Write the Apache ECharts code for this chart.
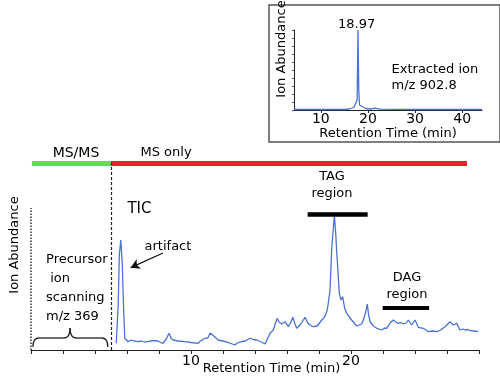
<!DOCTYPE html>
<html><head><meta charset="utf-8">
<script src="https://cdn.jsdelivr.net/npm/echarts@6/dist/echarts.min.js"></script>
<style>html,body{margin:0;padding:0;background:#fff}#c{width:500px;height:384px}</style>
</head><body><div id="c"></div>
<script>
const FONT = 'DejaVu Sans';
// ---- main TIC chromatogram (time in min, abundance in arbitrary units) ----
const ticTime = [5.33,5.45,5.52,5.61,5.70,5.78,5.86,6.06,6.27,6.45,6.69,6.9,7.1,7.31,7.6,7.94,8.1,8.25,8.45,8.63,8.75,8.88,9.2,9.61,10.0,10.44,10.6,10.86,11.05,11.2,11.31,11.5,11.69,12.0,12.31,12.5,12.73,12.9,13.14,13.4,13.69,13.9,14.11,14.4,14.63,14.8,14.94,15.14,15.39,15.5,15.67,15.88,16.08,16.25,16.36,16.5,16.61,16.86,17.13,17.3,17.44,17.64,17.89,18.17,18.35,18.52,18.69,18.79,18.96,19.05,19.1,19.14,19.27,19.38,19.48,19.6,19.73,19.9,20.04,20.2,20.36,20.5,20.67,20.81,20.95,21.02,21.1,21.2,21.4,21.61,21.92,22.1,22.23,22.45,22.64,22.8,22.96,23.1,23.27,23.45,23.58,23.79,24.0,24.21,24.52,24.7,24.83,25.1,25.36,25.6,25.88,26.0,26.19,26.39,26.5,26.61,26.81,27.0,27.13,27.3,27.44,27.7,27.96];
const ticAbund = [6.7,45,95,110,88,45,12,8.3,10,9,8.3,9,8,8.3,9.5,9,7.5,6.7,11,16.7,12,10,9,8.3,7.5,6.7,9,11.7,12,17,18.3,13,10,9,7.7,6.5,5,7,8.3,9,11.7,10.5,10,8,6,12,16.7,20,31.7,28,26,28.3,23.3,28,32.7,26,21.7,26,32.7,27,25,23.3,24,30,33,40,60,100,135,115,100,90,56.7,50,53.3,42,36.7,33,30,27,24,25,26,31.7,40,46,35,28,24,21.7,20,22,21.7,27,30,28,26.7,27.5,26,27,30,25,30,22.7,21.7,20,18.3,19,18.3,20,23.3,22,28.3,25,27,26.7,20,21,20,20.5,19.3,19,18.3];
const mainLabelTicks = [10, 20];
// ---- inset: extracted ion m/z 902.8 ----
const eicTime = [4.3,10,15,16,16.4,17.0,17.4,17.7,17.88,18.05,18.2,18.6,19.5,20.5,21.5,22.5,30,44.2];
const eicAbund = [0.5,0.5,0.5,1.0,2.5,2.5,3,10,80,20,5,3,1.5,1,1.8,0.8,0.5,0.5];
const insetLabelTicks = [10, 20, 30, 40];
// ---- annotation anchors (data units) ----
const switchTime = 5.0;
const msmsSpan = [0.06, 5.0];
const msOnlySpan = [5.0, 27.25];
const phaseLevel = 187;
const tagSpan = [17.29, 21.04], tagLevel = 136;
const dagSpan = [21.98, 24.88], dagLevel = 42.7;
const dottedSpan = [0, 142];
const braceSpan = [0.12, 4.8], braceTip = 2.44, braceLevels = [3, 12, 22];
const arrowFrom = [8.25, 97], arrowTo = [6.23, 82.3];
const mainNotes = [
  {name:'MS/MS', value:[2.81,197], size:14},
  {name:'MS only', value:[8.44,197]},
  {name:'TIC', value:[6.78,141], size:15},
  {name:'artifact', value:[8.56,103.3]},
  {name:'TAG\nregion', value:[18.81,165]},
  {name:'DAG\nregion', value:[23.5,64]},
  {name:'Precursor\n ion\nscanning\nm/z 369', value:[0.94,100.3], left:true, lh:19}
];
const insetNotes = [
  {name:'18.97', value:[17.6,85]},
  {name:'Extracted ion\nm/z 902.8', value:[25.0,48], left:true, lh:16},
  {name:'Ion Abundance', value:[1.77,61], rot:true}
];

const BLUE = '#4a72d6';
const chart = echarts.init(document.getElementById('c'), null, {renderer:'canvas'});

function noteItems(arr){
  return arr.map(n => ({
    name:n.name, value:n.value,
    label:{
      show:true, position:'inside', formatter:'{b}',
      fontFamily:FONT, color:'#000', fontSize:n.size||13, opacity:1, textBorderWidth:0,
      lineHeight: n.lh || 17,
      align: n.left ? 'left' : 'center',
      verticalAlign: n.left ? 'top' : 'middle',
      rotate: n.rot ? 90 : 0
    }
  }));
}
function hline(span, lvl, color, w){
  return [{coord:[span[0],lvl], lineStyle:{color:color, width:w, type:'solid'}}, {coord:[span[1],lvl]}];
}

chart.setOption({
  animation:false,
  backgroundColor:'#fff',
  grid:[
    {left:31, right:21, top:140, bottom:34, outerBoundsMode:'none', containLabel:false},
    {left:294, right:18, top:30, bottom:274, outerBoundsMode:'none', containLabel:false}
  ],
  xAxis:[
    {gridIndex:0, type:'value', min:0, max:28, interval:2,
     axisLine:{lineStyle:{color:'#222', width:1}},
     axisTick:{show:true, length:4, lineStyle:{color:'#222'}},
     axisLabel:{margin:4, fontFamily:FONT, fontSize:14, color:'#000',
       formatter:v => mainLabelTicks.includes(v) ? String(v) : ''},
     splitLine:{show:false},
     name:'Retention Time (min)', nameLocation:'middle', nameGap:12, nameMoveOverlap:false,
     nameTextStyle:{fontFamily:FONT, fontSize:13, color:'#000', padding:[0,0,0,33]}
    },
    {gridIndex:1, type:'value', min:4.3, max:44.2,
     axisLine:{lineStyle:{color:'#222', width:1}},
     axisTick:{show:true, length:3, customValues:insetLabelTicks, lineStyle:{color:'#222'}},
     axisLabel:{margin:2, fontFamily:FONT, fontSize:14, color:'#000', customValues:insetLabelTicks},
     splitLine:{show:false},
     name:'Retention Time (min)', nameLocation:'middle', nameGap:17, nameMoveOverlap:false,
     nameTextStyle:{fontFamily:FONT, fontSize:13, color:'#000'}
    }
  ],
  yAxis:[
    {gridIndex:0, type:'value', min:0, max:210,
     axisLine:{show:false}, axisTick:{show:false}, axisLabel:{show:false}, splitLine:{show:false},
     name:'Ion Abundance', nameLocation:'middle', nameGap:10, nameRotate:90, nameMoveOverlap:false,
     nameTextStyle:{fontFamily:FONT, fontSize:13, color:'#000'}
    },
    {gridIndex:1, type:'value', min:0, max:80, interval:8,
     axisLine:{show:true, lineStyle:{color:'#222', width:1}},
     axisTick:{show:true, length:2, lineStyle:{color:'#555'}},
     axisLabel:{show:false}, splitLine:{show:false}
    }
  ],
  series:[
    {type:'line', xAxisIndex:0, yAxisIndex:0, symbol:'none', silent:true,
     data:ticTime.map((t,i)=>[t, ticAbund[i]]),
     lineStyle:{color:BLUE, width:1.3},
     markLine:{silent:true, symbol:['none','none'], label:{show:false}, animation:false,
       data:[
         hline(msmsSpan, phaseLevel, '#62dd3a', 5),
         hline(msOnlySpan, phaseLevel, '#e8212b', 5),
         hline(tagSpan, tagLevel, '#000', 4.5),
         hline(dagSpan, dagLevel, '#000', 4),
         [{coord:[switchTime,0], lineStyle:{color:'#222', width:1.2, type:[3,2]}}, {coord:[switchTime,phaseLevel]}],
         [{coord:[0,dottedSpan[0]], lineStyle:{color:'#333', width:1.5, type:[1.5,1.5]}}, {coord:[0,dottedSpan[1]]}]
       ]}
    },
    {type:'scatter', xAxisIndex:0, yAxisIndex:0, symbolSize:0, clip:false, silent:true,
     itemStyle:{color:'rgba(0,0,0,0)', opacity:1},
     data:noteItems(mainNotes),
     markLine:{silent:true, symbol:['none','arrow'], symbolSize:[8,9], label:{show:false},
       lineStyle:{color:'#111', width:1.3, type:'solid', opacity:1},
       data:[[{coord:arrowFrom},{coord:arrowTo}]]}
    },
    {type:'line', xAxisIndex:1, yAxisIndex:1, symbol:'none', silent:true,
     data:eicTime.map((t,i)=>[t, eicAbund[i]]),
     lineStyle:{color:BLUE, width:1.3}
    },
    {type:'scatter', xAxisIndex:1, yAxisIndex:1, symbolSize:0, clip:false, silent:true,
     itemStyle:{color:'rgba(0,0,0,0)', opacity:1},
     data:noteItems(insetNotes)
    }
  ]
});

// brace and inset frame, anchored through the axes
const p = (t,v) => chart.convertToPixel({gridIndex:0}, [t,v]);
const [x0, yb] = p(braceSpan[0], braceLevels[0]);
const [x1] = p(braceSpan[1], braceLevels[0]);
const [xm, yc] = p(braceTip, braceLevels[1]);
const yt = p(braceTip, braceLevels[2])[1];
const r = 6;
const bs = {fill:'none', stroke:'#222', lineWidth:1.3};
const q = (ax,ay,cx,cy,bx,by) => ({type:'bezierCurve', shape:{x1:ax,y1:ay,cpx1:cx,cpy1:cy,x2:bx,y2:by}, style:bs});
const ln = (ax,ay,bx,by) => ({type:'line', shape:{x1:ax,y1:ay,x2:bx,y2:by}, style:bs});
const p1 = chart.convertToPixel({gridIndex:1}, [4.3, 0]);
const p2 = chart.convertToPixel({gridIndex:1}, [44.2, 80]);
chart.setOption({
  graphic:[
    q(x0,yb,x0,yc,x0+r,yc), ln(x0+r,yc,xm-r,yc), q(xm-r,yc,xm,yc,xm,yt),
    q(xm,yt,xm,yc,xm+r,yc), ln(xm+r,yc,x1-r,yc), q(x1-r,yc,x1,yc,x1,yb),
    {type:'rect', shape:{x:p1[0]-25, y:p2[1]-25, width:(p2[0]-p1[0])+43, height:(p1[1]-p2[1])+57},
     style:{fill:'none', stroke:'#555', lineWidth:1.5}, z:-1}
  ]
});
</script></body></html>
